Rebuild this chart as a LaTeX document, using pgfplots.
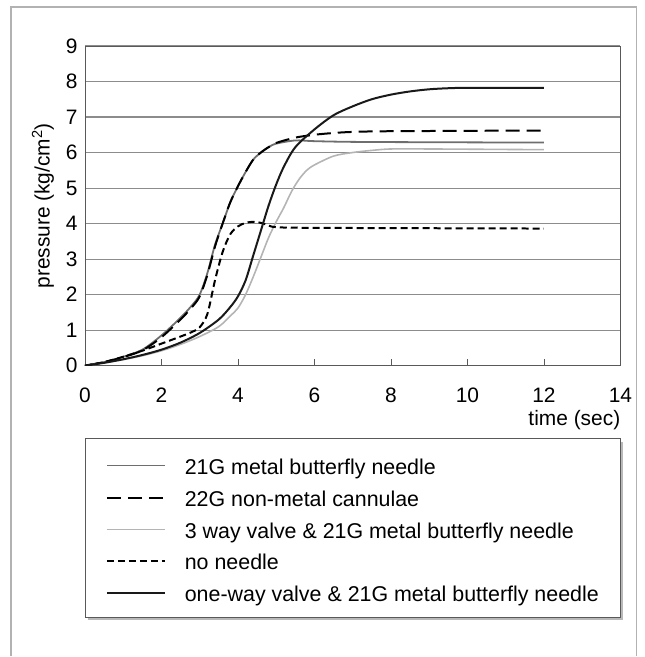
\documentclass[border=0pt]{standalone}
\usepackage{pgfplots}
\pgfplotsset{compat=1.18}
\usepackage{fontspec}
\setmainfont{Liberation Sans}
\definecolor{gridgray}{HTML}{8C8C8C}
\definecolor{metalgray}{HTML}{6E6E6E}
\definecolor{valvegray}{HTML}{B4B4B4}

\begin{document}
\begin{tikzpicture}
% page and outer frame
\path (-85bp,-291bp) rectangle (560bp,366bp);
\draw[gray!60, line width=1.2bp] (-74bp,-291bp) -- (-74bp,359bp) -- (552bp,359bp) -- (552bp,-291bp);
% legend box with shadow
\fill[gray!55] (3bp,-76bp) rectangle (539bp,-255bp);
\filldraw[fill=white, draw=gray!70!black, line width=0.8bp] (0bp,-73bp) rectangle (536bp,-252bp);

\begin{axis}[
  scale only axis, width=536bp, height=320bp,
  xmin=0, xmax=14, ymin=0, ymax=9,
  xtick={0,2,...,14}, ytick={0,1,...,9},
  tick align=inside, tick pos=left,
  xtick style={draw=gray!70!black, line width=0.8bp},
  major tick length=7bp,
  ytick style={draw=none},
  axis line style={draw=gray!70!black, line width=0.8bp},
  ymajorgrids, grid style={draw=gridgray, line width=1.1bp},
  /pgf/number format/assume math mode=true,
  ticklabel style={font=\fontsize{21}{23}\selectfont},
  xticklabel style={yshift=-19bp},
  yticklabel style={xshift=-4bp},
  ylabel={pressure (kg/cm\textsuperscript{2})},
  ylabel style={font=\fontsize{21}{23}\selectfont, at={(axis description cs:0,0.5)},
    anchor=center, inner sep=0pt, yshift=42bp},
  xlabel={time (sec)},
  xlabel style={font=\fontsize{21}{23}\selectfont, at={(rel axis cs:1,0)},
    anchor=base east, inner sep=0pt, yshift=-60bp},
  legend cell align=left,
  legend style={draw=none, fill=none, at={(rel axis cs:0,0)}, anchor=north west,
    xshift=21bp, yshift=-93bp, inner sep=0pt, outer sep=0pt,
    font=\fontsize{21.5}{23}\selectfont, row sep=12bp, column sep=19bp,
    nodes={inner sep=0pt, text height=15.5bp, text depth=4.5bp}},
  legend image code/.code={\draw[#1] (0bp,3bp) -- (58bp,3bp);},
]
\addplot[metalgray, line width=1.8bp, smooth] coordinates {
  (0,0) (0.5,0.1) (1,0.25) (1.5,0.45) (2,0.85) (2.5,1.35) (2.8,1.7) (3,2.0)
  (3.2,2.6) (3.4,3.4) (3.6,4.0) (3.8,4.6) (4,5.05) (4.2,5.45) (4.4,5.8)
  (4.6,6.0) (4.8,6.15) (5,6.25) (5.5,6.34) (6,6.32) (7,6.3) (9,6.29) (12,6.28)};
\addlegendentry{21G metal butterfly needle}
\addplot[black, line width=2bp, dash pattern=on 14bp off 7bp, smooth] coordinates {
  (0,0) (0.5,0.1) (1,0.24) (1.5,0.43) (2,0.8) (2.5,1.3) (2.8,1.65) (3,1.95)
  (3.2,2.55) (3.4,3.35) (3.6,4.0) (3.8,4.6) (4,5.05) (4.2,5.45) (4.4,5.8)
  (4.6,6.0) (4.8,6.15) (5,6.27) (5.5,6.42) (6,6.5) (6.5,6.55) (7,6.58) (8,6.6) (12,6.62)};
\addlegendentry{22G non-metal cannulae}
\addplot[valvegray, line width=1.6bp, smooth] coordinates {
  (0,0) (0.5,0.08) (1,0.17) (1.5,0.28) (2,0.42) (2.5,0.6) (3,0.82) (3.5,1.1)
  (3.8,1.4) (4,1.62) (4.2,2.0) (4.4,2.5) (4.6,3.05) (4.8,3.6) (5,4.05)
  (5.2,4.45) (5.4,4.9) (5.6,5.25) (5.8,5.5) (6,5.65) (6.5,5.9) (7,6.0)
  (7.5,6.06) (8,6.1) (9,6.1) (12,6.08)};
\addlegendentry{3 way valve \& 21G metal butterfly needle}
\addplot[black, line width=2bp, dash pattern=on 7bp off 4bp, smooth] coordinates {
  (0,0) (0.5,0.1) (1,0.25) (1.5,0.42) (2,0.62) (2.5,0.82) (2.8,0.95) (3,1.08)
  (3.2,1.45) (3.4,2.4) (3.6,3.2) (3.8,3.7) (4,3.92) (4.2,4.02) (4.4,4.05)
  (4.6,4.02) (4.8,3.95) (5,3.9) (6,3.88) (12,3.86)};
\addlegendentry{no needle}
\addplot[black!90, line width=2bp, smooth] coordinates {
  (0,0) (0.5,0.08) (1,0.18) (1.5,0.3) (2,0.45) (2.5,0.65) (3,0.92) (3.5,1.3)
  (3.8,1.65) (4,1.95) (4.2,2.4) (4.4,3.1) (4.6,3.8) (4.8,4.5) (5,5.1)
  (5.2,5.6) (5.5,6.15) (6,6.65) (6.5,7.05) (7,7.3) (7.5,7.5) (8,7.63)
  (8.5,7.72) (9,7.78) (9.5,7.81) (10,7.82) (12,7.82)};
\addlegendentry{one-way valve \& 21G metal butterfly needle}
\end{axis}
\end{tikzpicture}
\end{document}
